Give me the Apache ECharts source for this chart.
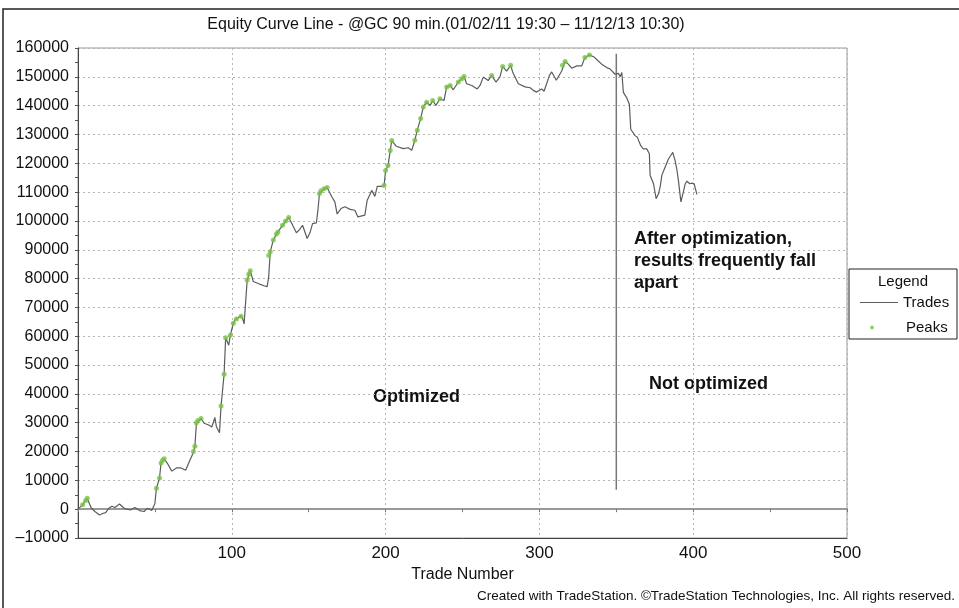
<!DOCTYPE html>
<html>
<head>
<meta charset="utf-8">
<script src="https://cdn.jsdelivr.net/npm/echarts@6/dist/echarts.min.js"></script>
<style>
html,body{margin:0;padding:0;background:#fff;}
#chart{width:959px;height:608px;}
</style>
</head>
<body>
<div id="chart"></div>
<script>
// ---- data ----
const chartTitle = 'Equity Curve Line - @GC 90 min.(01/02/11 19:30 \u2013 11/12/13 10:30)';
const xAxisName = 'Trade Number';
const footerText = 'Created with TradeStation. \u00A9TradeStation Technologies, Inc. All rights reserved.';
const seriesNames = ['Trades', 'Peaks'];
const legendTitle = 'Legend';

const tradeNums = [0,3,6,8.5,11,14,16,18,20,22,24,27,30,34,37,40,43,45,48,50,51,53,54,56,58,61,64,67,70,72,75,76,77,80,82,85,87,89,90,92,93,95,96,98,99,101,102,104,106,107,108,109,110,112,114,118,121,123,124,125,127,130,133,137,139,142,144,146,149,151,152.5,155,156,157,160,162,165,167,168.5,171,173.5,177,180,182,186.5,188,191,193,194.6,197.4,199,200,201.6,203,204,207,211.5,214.7,217,219,220.6,222.8,224.5,226.7,229,230.6,232.7,235.3,238,239.7,242,244,247.3,249.5,251,252.7,256,259.6,261.4,263.5,266.7,269,271.7,274.3,276.1,278.7,281.3,282.6,286.3,290.7,294,296,298.2,301.5,303,304.7,306.5,308,311,314.5,316.7,318.8,321,324.3,327.5,329.6,332.5,335.5,338.3,340.5,343.8,346,349.2,351.4,352.5,353.6,354.6,356.7,358.5,359.4,362.2,363.7,365,365.9,367.6,369.8,371.5,372,374.2,375.9,377.4,378.5,379.6,381.7,383.9,385.4,386.7,388.2,389.3,390.4,392,393.3,394.8,396,397.7,399.2,400.6,402.4];
const equity = [0,1500,3800,500,-800,-2000,-1500,-1200,300,1000,600,1800,300,-300,600,-500,-800,300,-400,2000,7300,10800,16000,17500,16000,13200,14300,14300,13500,16000,19700,21800,30000,31500,29800,29200,28500,31800,28600,26500,35800,46800,59500,56900,60300,64500,65600,66500,66900,66200,64300,63900,79500,82700,79000,78100,77500,77200,80700,89300,93400,96200,98500,101200,99100,95900,97000,98500,93900,96200,99100,99300,103700,109500,111200,111600,108400,106600,102400,104300,104900,104000,103700,101400,102000,107100,110600,108500,112000,112000,112300,117500,119200,124400,127900,125900,125100,125400,124500,128000,131500,135500,139500,141200,140100,141800,140100,142400,141800,146500,147000,145500,148200,149300,150100,147600,147000,145800,147000,149900,148700,150500,148200,149900,153600,152000,154000,151700,147600,146500,146200,145300,144700,145800,145000,147600,150500,151700,148800,152000,155300,154400,153000,153800,153800,156700,157600,156900,155500,154400,153200,152700,150900,151200,150000,151500,144600,142800,140500,131800,129600,129000,129600,126100,125000,125000,123300,115800,112900,107700,109400,111700,115800,118600,121500,122700,123800,121000,118100,114000,106600,109400,112900,113800,112900,113100,112900,109200];

const peakNums = [3,5,6,51,53,54,55,56,75,76,77,78,80,93,95,96,99,101,103,106,110,111,112,124,125,127,129,130,133,135,137,157,158,160,162,199,200,201.6,203,204,219,220.6,222.8,224.5,226.7,230.6,235.3,239.7,242,247.3,249.5,251,269,276.1,281.3,315,316.7,329.6,332.5];
const peakValues = [1500,3000,3800,7300,10800,16000,17000,17500,20000,21800,30000,30800,31500,35800,46800,59500,60300,64500,66000,66900,79500,81500,82700,88000,89300,93400,95500,96200,98500,100000,101200,109500,110500,111200,111600,112300,117500,119200,124400,127900,128000,131500,135500,139500,141200,141800,142400,146500,147000,148200,149300,150100,150500,153600,154000,154000,155300,156700,157600];

const splitTrade = 350;
const splitTop = 158000;
const splitBottom = 6700;

const annotationAfter = ['After optimization,', 'results frequently fall', 'apart'];
const annotationOptimized = 'Optimized';
const annotationNotOptimized = 'Not optimized';

const xTicks = {min: 0, max: 500, interval: 100};
const yTicks = {min: -10000, max: 160000, interval: 10000};

// ---- build ----
const tradeData = tradeNums.map((t, i) => [t, equity[i]]);
const peakData = peakNums.map((t, i) => [t, peakValues[i]]);
const splitData = [[splitTrade, splitTop], [splitTrade, splitBottom]];

const FONT = "'Liberation Sans', Arial, sans-serif";
const chart = echarts.init(document.getElementById('chart'), null, {renderer: 'canvas'});

const numFmt = v => v < 0 ? '\u2013' + Math.abs(v) : String(v);

const option = {
  backgroundColor: '#fff',
  animation: false,
  title: {
    text: chartTitle,
    left: 441, top: 12, textAlign: 'center',
    textStyle: {fontFamily: FONT, fontSize: 16, fontWeight: 'normal', color: '#111'}
  },
  grid: {left: 78, top: 48, right: 112, bottom: 70, show: true, borderColor: '#999', borderWidth: 1, backgroundColor: 'transparent'},
  xAxis: [{
    type: 'value', min: xTicks.min, max: xTicks.max, interval: xTicks.interval,
    name: xAxisName, nameLocation: 'middle', nameGap: 28,
    nameTextStyle: {fontFamily: FONT, fontSize: 16, color: '#111'},
    axisLine: {onZero: false, lineStyle: {color: '#444', width: 1}},
    axisTick: {show: false},
    axisLabel: {fontFamily: FONT, fontSize: 17, color: '#111', margin: 7,
      formatter: v => v === 0 ? '' : String(v)},
    splitLine: {show: true, lineStyle: {color: '#b5b5b5', type: [2, 3], width: 1}}
  }, {
    type: 'value', min: xTicks.min, max: xTicks.max, interval: 50, position: 'bottom',
    axisLine: {onZero: true, lineStyle: {color: '#999', width: 2}},
    axisTick: {show: true, length: 3, lineStyle: {color: '#777'}},
    axisLabel: {show: false},
    splitLine: {show: false}
  }],
  yAxis: {
    type: 'value', min: yTicks.min, max: yTicks.max, interval: yTicks.interval,
    axisLine: {show: true, lineStyle: {color: '#444', width: 1}},
    axisTick: {show: true, length: 3, lineStyle: {color: '#555'}},
    minorTick: {show: true, splitNumber: 2, length: 3, lineStyle: {color: '#555'}},
    axisLabel: {fontFamily: FONT, fontSize: 16, color: '#111', margin: 9, formatter: numFmt},
    splitLine: {show: true, lineStyle: {color: '#b5b5b5', type: [2, 3], width: 1}}
  },
  legend: [{
    left: 855, top: 290, orient: 'vertical',
    itemWidth: 38, itemHeight: 8,
    textStyle: {fontFamily: FONT, fontSize: 15, color: '#111', width: 47, align: 'right'},
    data: [{name: seriesNames[0], icon: 'path://M0,0 L38,0 L38,1 L0,1 Z'}]
  }, {
    left: 865, top: 315, orient: 'vertical',
    itemWidth: 4, itemHeight: 4,
    textStyle: {fontFamily: FONT, fontSize: 15, color: '#111', padding: [0, 0, 0, 27]},
    data: [{name: seriesNames[1], icon: 'circle'}]
  }],
  series: [
    {
      name: seriesNames[0], type: 'line', data: tradeData, showSymbol: false, symbol: 'none',
      lineStyle: {color: '#5c5c5c', width: 1.2}, itemStyle: {color: '#5c5c5c'}, z: 3
    },
    {
      name: seriesNames[1], type: 'scatter', data: peakData, symbol: 'circle', symbolSize: 5,
      itemStyle: {color: '#78c245'}, z: 4
    },
    {
      name: 'split', type: 'line', data: splitData, showSymbol: false, symbol: 'none',
      lineStyle: {color: '#777', width: 1.5}, z: 2
    }
  ],
  graphic: [
    {type: 'rect', shape: {x: 3, y: 9, width: 1000, height: 700}, style: {fill: 'none', stroke: '#222', lineWidth: 1.5}, silent: true},
    {type: 'rect', shape: {x: 849, y: 269, width: 108, height: 70}, style: {fill: 'none', stroke: '#222', lineWidth: 1}, silent: true},
    {type: 'text', x: 903, y: 282, style: {text: legendTitle, font: '15px ' + FONT, fill: '#111', textAlign: 'center', textVerticalAlign: 'middle'}},
    {type: 'text', x: 634, y: 228, style: {text: annotationAfter.join('\n'), font: 'bold 18px ' + FONT, fill: '#111', lineHeight: 22}},
    {type: 'text', x: 373, y: 397, style: {text: annotationOptimized, font: 'bold 18px ' + FONT, fill: '#111', textVerticalAlign: 'middle'}},
    {type: 'text', x: 649, y: 384, style: {text: annotationNotOptimized, font: 'bold 18px ' + FONT, fill: '#111', textVerticalAlign: 'middle'}},
    {type: 'text', right: 4, top: 589, style: {text: footerText, font: '13.5px ' + FONT, fill: '#111'}}
  ]
};
chart.setOption(option);
</script>
</body>
</html>
